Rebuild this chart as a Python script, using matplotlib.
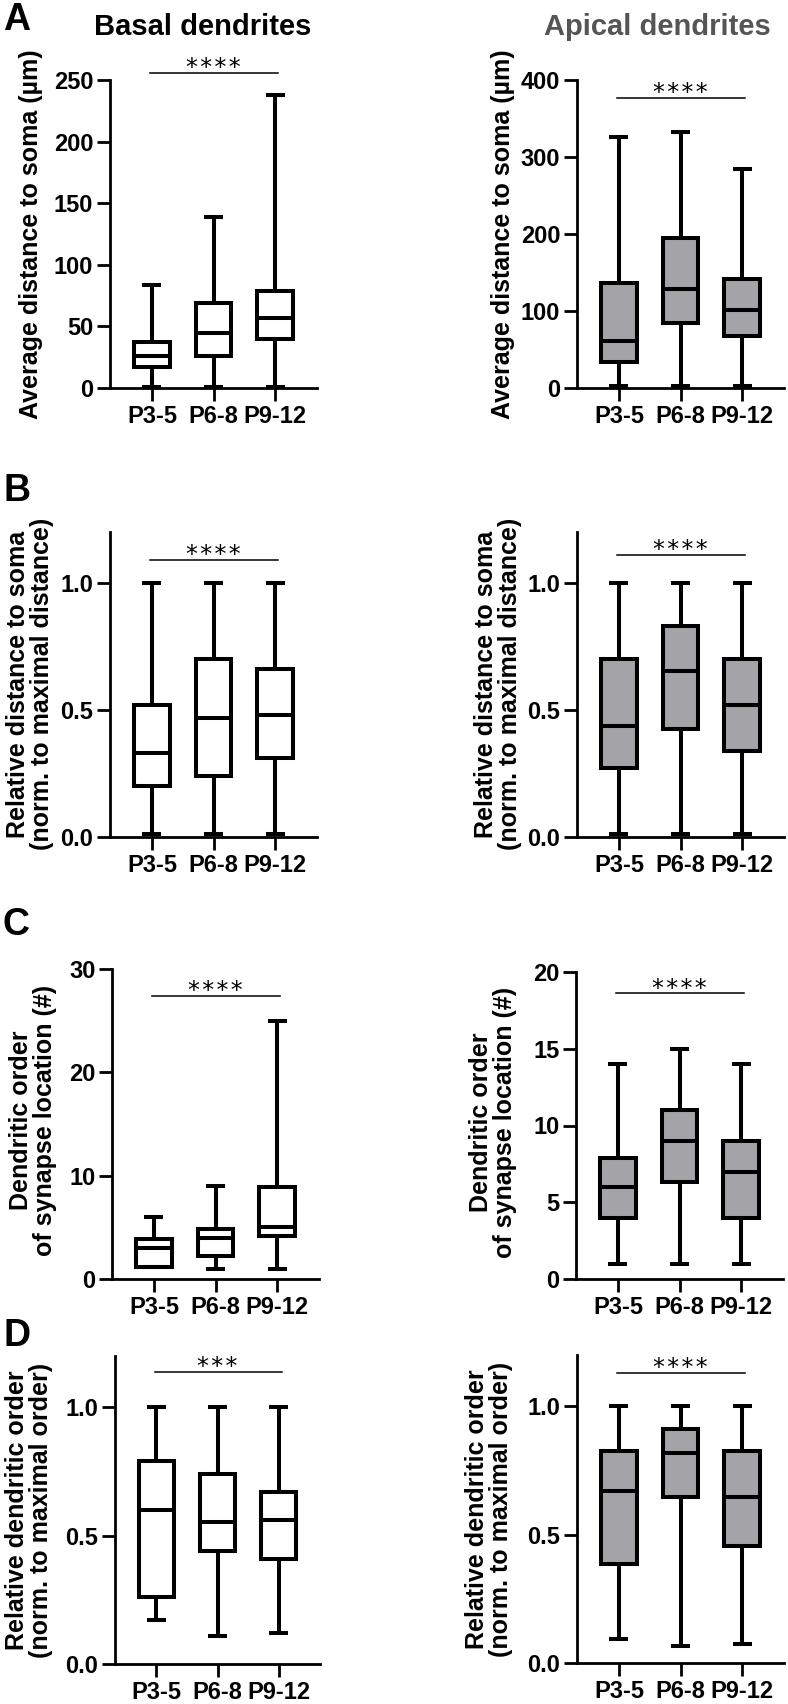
import matplotlib
matplotlib.use("Agg")
import matplotlib.pyplot as plt

W, H = 788, 1704

groups = ['P3-5', 'P6-8', 'P9-12']

# five-number summaries per group: (min, q1, median, q3, max)
dist_basal = [(1, 17, 26, 37, 84), (1, 26, 45, 69, 139), (1, 40, 57, 79, 238)]
dist_apical = [(2, 34, 61, 137, 326), (2, 85, 129, 195, 333), (3, 68, 101, 141, 284)]
rel_dist_basal = [(0.01, 0.20, 0.33, 0.52, 1.0), (0.01, 0.24, 0.47, 0.70, 1.0), (0.01, 0.31, 0.48, 0.66, 1.0)]
rel_dist_apical = [(0.01, 0.27, 0.435, 0.70, 1.0), (0.01, 0.425, 0.655, 0.83, 1.0), (0.01, 0.34, 0.52, 0.70, 1.0)]
order_basal = [(1.2, 1.2, 3, 3.9, 6), (1, 2.2, 4, 4.8, 9), (1, 4.2, 5, 8.9, 25)]
order_apical = [(1, 4, 6, 7.9, 14), (1, 6.3, 9, 11, 15), (1, 4, 7, 9, 14)]
rel_order_basal = [(0.17, 0.26, 0.60, 0.79, 1.0), (0.11, 0.44, 0.555, 0.74, 1.0), (0.12, 0.41, 0.56, 0.67, 1.0)]
rel_order_apical = [(0.094, 0.387, 0.67, 0.827, 1.0), (0.068, 0.645, 0.82, 0.91, 1.0), (0.075, 0.457, 0.645, 0.827, 1.0)]

# significance: (bar height, stars)
sig_dist = [(256, '****'), (377, '****')]
sig_rel_dist = [(1.09, '****'), (1.11, '****')]
sig_order = [(27.4, '****'), (18.6, '****')]
sig_rel_order = [(1.138, '***'), (1.13, '****')]

plt.rcParams['font.family'] = ['Liberation Sans', 'DejaVu Sans']
plt.rcParams['font.weight'] = 'bold'

fig = plt.figure(figsize=(W / 100, H / 100), dpi=100)


def rect(x0, y0, x1, y1):
	return [x0 / W, 1 - y1 / H, (x1 - x0) / W, (y1 - y0) / H]


def panel(r, data, ylim, yticks, yticklabels, sig, fill):
	ax = fig.add_axes(rect(*r))
	stats = []
	for g, d in zip(groups, data):
		stats.append(dict(whislo=d[0], q1=d[1], med=d[2], q3=d[3], whishi=d[4], label=g))
	lw = 2.9
	ax.bxp(stats, positions=[0, 1, 2], widths=0.58, capwidths=0.31, showfliers=False, patch_artist=True,
		boxprops=dict(facecolor=fill, edgecolor='black', linewidth=lw),
		whiskerprops=dict(color='black', linewidth=lw, solid_capstyle='butt'),
		capprops=dict(color='black', linewidth=lw, solid_capstyle='butt'),
		medianprops=dict(color='black', linewidth=lw, solid_capstyle='butt'))
	ax.set_xlim(-0.68, 2.68)
	ax.set_ylim(*ylim)
	ax.set_yticks(yticks)
	ax.set_yticklabels(yticklabels)
	ax.set_xticks([0, 1, 2])
	ax.set_xticklabels(groups)
	for s in ['top', 'right']:
		ax.spines[s].set_visible(False)
	for s in ['left', 'bottom']:
		ax.spines[s].set_linewidth(2.0)
	ax.tick_params(axis='both', width=2.0, length=9.5, labelsize=17, pad=2.5)
	for t in ax.get_xticklabels() + ax.get_yticklabels():
		t.set_fontweight('bold')
	ax.plot([-0.03, 2.05], [sig[0], sig[0]], color='black', lw=1.1, clip_on=False)
	ax.annotate('\u200a'.join(sig[1]), xy=(1.0, sig[0]), xytext=(0, -1.5), textcoords='offset points',
		ha='center', va='baseline', fontsize=17, fontweight='normal', family='DejaVu Sans',
		annotation_clip=False)
	return ax


gray = '#a3a3a8'
panel((110, 80, 317, 388), dist_basal, (0, 250), [0, 50, 100, 150, 200, 250],
	['0', '50', '100', '150', '200', '250'], sig_dist[0], 'white')
panel((577, 80, 784, 388), dist_apical, (0, 400), [0, 100, 200, 300, 400],
	['0', '100', '200', '300', '400'], sig_dist[1], gray)
panel((110, 532, 317, 837), rel_dist_basal, (0, 1.2), [0, 0.5, 1.0],
	['0.0', '0.5', '1.0'], sig_rel_dist[0], 'white')
panel((577, 532, 784, 837), rel_dist_apical, (0, 1.2), [0, 0.5, 1.0],
	['0.0', '0.5', '1.0'], sig_rel_dist[1], gray)
panel((112, 969, 319, 1279), order_basal, (0, 30), [0, 10, 20, 30],
	['0', '10', '20', '30'], sig_order[0], 'white')
panel((576, 972, 783, 1279), order_apical, (0, 20), [0, 5, 10, 15, 20],
	['0', '5', '10', '15', '20'], sig_order[1], gray)
panel((115, 1356, 320, 1664), rel_order_basal, (0, 1.2), [0, 0.5, 1.0],
	['0.0', '0.5', '1.0'], sig_rel_order[0], 'white')
panel((577, 1355, 784, 1663), rel_order_apical, (0, 1.2), [0, 0.5, 1.0],
	['0.0', '0.5', '1.0'], sig_rel_order[1], gray)


def ftext(x, y, s, **kw):
	fig.text(x / W, 1 - y / H, s, **kw)


# titles and panel letters
ftext(203, 27, 'Basal dendrites', ha='center', va='center', fontsize=21, fontweight='bold')
ftext(657, 27, 'Apical dendrites', ha='center', va='center', fontsize=21, fontweight='bold', color='#555555')
for letter, y in [('A', 20), ('B', 491), ('C', 925), ('D', 1336)]:
	ftext(3, y, letter, ha='left', va='center', fontsize=27, fontweight='bold')

# y labels
ylab = dict(rotation=90, ha='center', va='center', fontsize=18, fontweight='bold',
	linespacing=1.0, multialignment='center')
ftext(31, 234, 'Average distance to soma (µm)', **ylab)
ftext(503, 234, 'Average distance to soma (µm)', **ylab)
ftext(30, 684, 'Relative distance to soma\n(norm. to maximal distance)', **ylab)
ftext(498, 684, 'Relative distance to soma\n(norm. to maximal distance)', **ylab)
ftext(33, 1120, 'Dendritic order\nof synapse location (#)', **ylab)
ftext(493, 1122, 'Dendritic order\nof synapse location (#)', **ylab)
ftext(29, 1510, 'Relative dendritic order\n(norm. to maximal order)', **ylab)
ftext(489, 1509, 'Relative dendritic order\n(norm. to maximal order)', **ylab)

fig.savefig('out.png', dpi=100)
